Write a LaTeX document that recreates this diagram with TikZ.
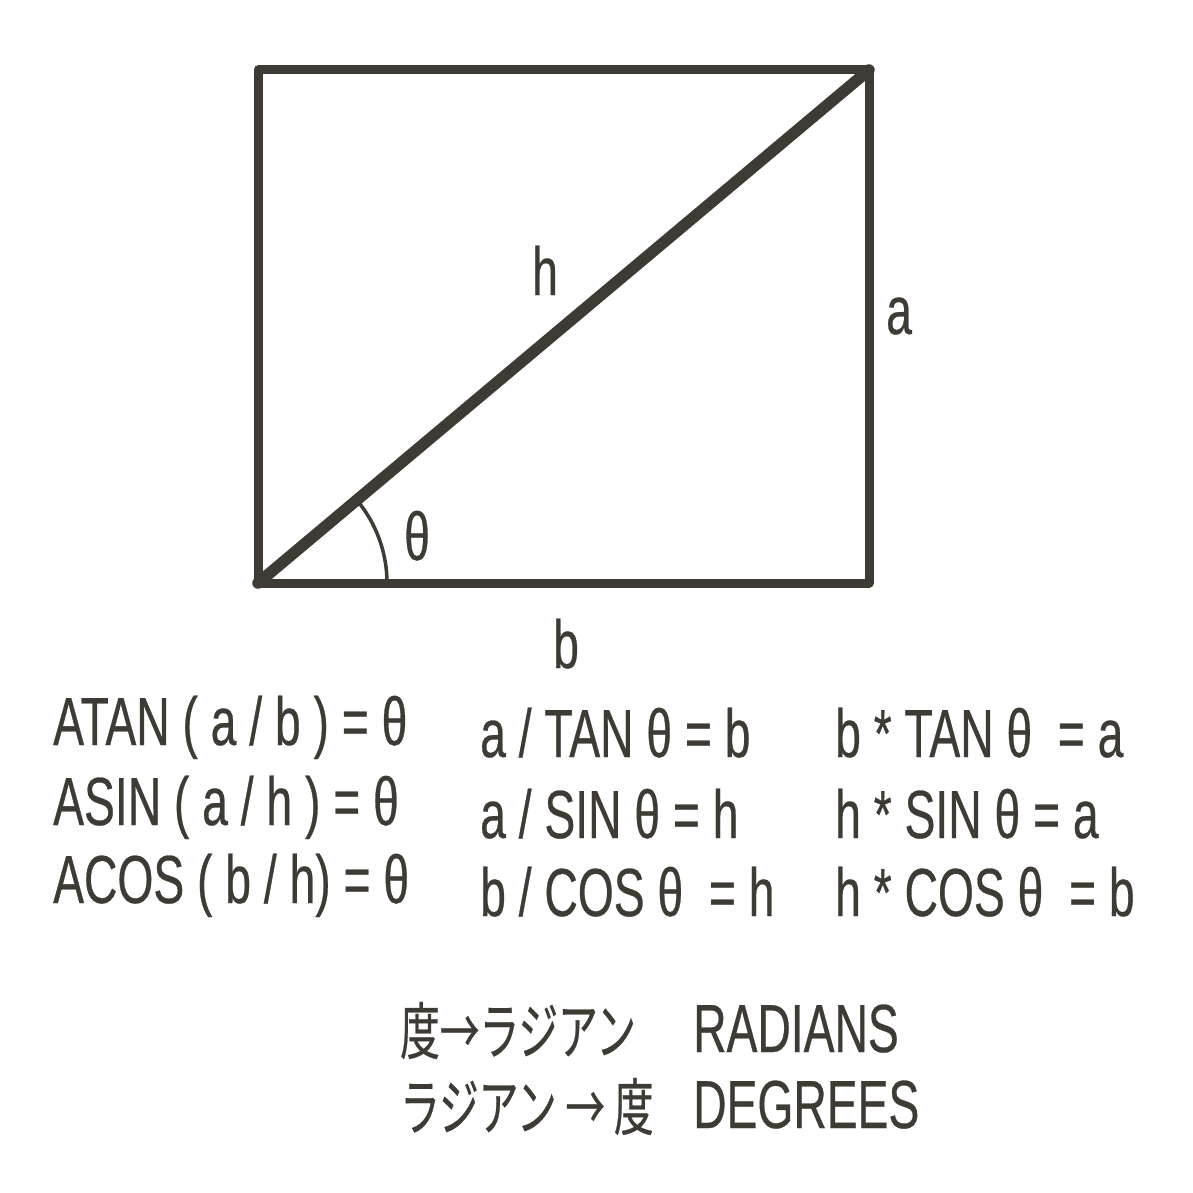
\documentclass[tikz,border=0pt]{standalone}
\usepackage{fontspec}
\setmainfont[FakeStretch=0.68,FakeBold=0.4]{Liberation Sans}
\newfontfamily\jpfont[FakeStretch=0.64,FakeBold=0.4]{Noto Sans CJK JP}
\definecolor{ink}{HTML}{3E3A34}
\begin{document}
\begin{tikzpicture}[x=1pt,y=-1pt,
  edge/.style={draw=ink,line width=9pt,line join=round,line cap=round},
  lbl/.style={inner sep=0pt,anchor=base west,text=ink,font=\fontsize{68}{68}\selectfont},
  jlbl/.style={inner sep=0pt,anchor=base west,text=ink,font=\fontsize{62}{62}\selectfont\jpfont}]
\useasboundingbox[fill=white] (0,0) rectangle (1193,1193);
\coordinate (bl) at (258,583);
\coordinate (br) at (869,583);
\coordinate (tr) at (869,70);
\coordinate (tl) at (258,70);
\draw[edge] (bl) -- (br) -- (tr) -- (tl) -- cycle;
\draw[edge,line width=11.5pt] (bl) -- (tr);
\draw[draw=ink,line width=3.5pt] (bl) ++(129,0) arc[start angle=0,end angle=-40,radius=129];
\node[lbl] (h) at (532,295) {h};
\node[lbl] (a) at (886,334) {a};
\node[lbl] (b) at (553,668) {b};
\node[lbl] (th) at (404,560) {θ};
\node[lbl] (r11) at (53,745) {ATAN ( a / b ) = θ};
\node[lbl] (r12) at (53,825) {ASIN ( a / h ) = θ};
\node[lbl] (r13) at (53,903) {ACOS ( b / h) = θ};
\node[lbl] (r21) at (480,757) {a / TAN θ = b};
\node[lbl] (r22) at (480,838) {a / SIN θ = h};
\node[lbl] (r23) at (480,916) {b / COS θ \ = h};
\node[lbl] (r31) at (835,757) {b * TAN θ \ = a};
\node[lbl] (r32) at (835,838) {h * SIN θ = a};
\node[lbl] (r33) at (835,916) {h * COS θ \ = b};
\node[jlbl] (j1) at (400,1054) {度→ラジアン};
\node[jlbl] (j2) at (400,1130) {ラジアン → 度};
\node[lbl] (rad) at (693,1052) {RADIANS};
\node[lbl] (deg) at (693,1128) {DEGREES};
\end{tikzpicture}
\end{document}
